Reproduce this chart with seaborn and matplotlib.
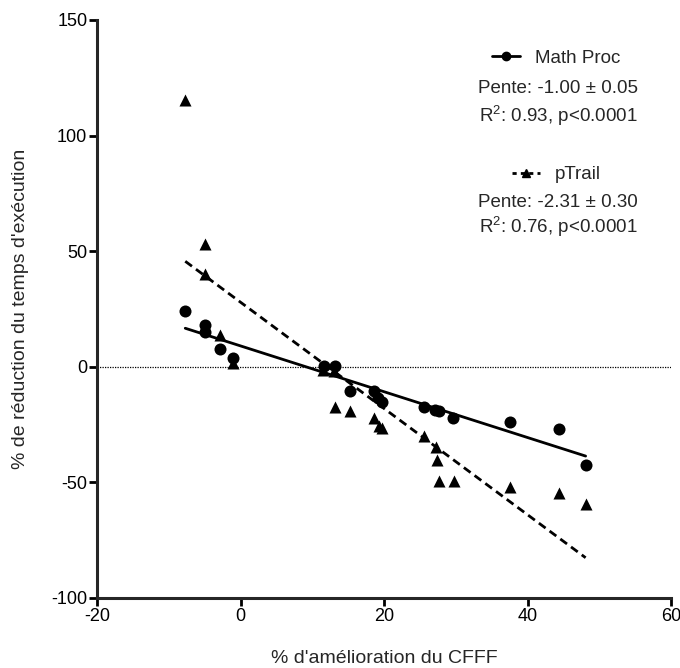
import matplotlib
matplotlib.use('Agg')
import matplotlib.pyplot as plt
from matplotlib.lines import Line2D
import pandas as pd
import seaborn as sns

# values
x_math = [-7.7, -5.0, -5.0, -2.8, -1.0, 11.7, 13.2, 15.2, 18.6, 19.1, 19.7,
          25.6, 27.1, 27.7, 29.6, 37.6, 44.4, 48.1]
y_math = [24.2, 18.2, 15.1, 7.6, 3.8, 0.4, 0.4, -10.6, -10.6, -13.6, -15.4,
          -17.3, -18.6, -19.0, -22.1, -23.9, -26.7, -42.3]

x_trail = [-7.7, -5.0, -5.0, -2.8, -1.0, 11.5, 13.0, 13.2, 15.2, 18.6, 19.3,
           19.7, 25.6, 27.2, 27.4, 27.6, 29.7, 37.6, 44.4, 48.1]
y_trail = [115.5, 53.1, 40.1, 13.8, 1.6, -1.5, -2.0, -17.6, -19.3, -22.2, -25.5,
           -26.5, -30.1, -34.6, -40.5, -49.6, -49.6, -51.8, -54.5, -59.3]

stats_math = ["Pente: -1.00 ± 0.05", "R$^2$: 0.93, p<0.0001"]
stats_trail = ["Pente: -2.31 ± 0.30", "R$^2$: 0.76, p<0.0001"]

df_math = pd.DataFrame({'x': x_math, 'y': y_math})
df_trail = pd.DataFrame({'x': x_trail, 'y': y_trail})

sns.set_style('ticks')
plt.rcParams['font.family'] = ['Liberation Sans', 'DejaVu Sans']
plt.rcParams['axes.unicode_minus'] = False
plt.rcParams['mathtext.fontset'] = 'custom'
plt.rcParams['mathtext.rm'] = 'Liberation Sans'
plt.rcParams['mathtext.it'] = 'Liberation Sans'
plt.rcParams['mathtext.default'] = 'regular'

fig = plt.figure(figsize=(6.8, 6.68), dpi=100)
ax = fig.add_axes([97 / 680, 1 - 598 / 668, 574 / 680, 578 / 668])

ax.axhline(0, color='black', lw=0.9, ls=(0, (1, 1)), zorder=1)

# regression lines
sns.regplot(data=df_math, x='x', y='y', ax=ax, scatter=False, ci=None,
            truncate=True, line_kws=dict(color='black', lw=2))
sns.regplot(data=df_trail, x='x', y='y', ax=ax, scatter=False, ci=None,
            truncate=True, line_kws=dict(color='black', lw=2, ls=(0, (3, 1.8))))

# points
sns.scatterplot(data=df_math, x='x', y='y', ax=ax, marker='o', s=75,
                color='black', edgecolor='black', linewidth=0, zorder=3)
sns.scatterplot(data=df_trail, x='x', y='y', ax=ax, marker='^', s=75,
                color='black', edgecolor='black', linewidth=0, zorder=3)

ax.set_xlim(-20, 60)
ax.set_ylim(-100, 150)
ax.set_xticks([-20, 0, 20, 40, 60])
ax.set_yticks([-100, -50, 0, 50, 100, 150])

sns.despine(ax=ax)
for s in ['left', 'bottom']:
    ax.spines[s].set_linewidth(2.2)
ax.tick_params(axis='both', direction='out', length=6, width=2,
               labelsize=13, pad=1, color='black', labelcolor='black')

ax.set_xlabel("% d'amélioration du CFFF", fontsize=14, labelpad=18)
ax.set_ylabel("% de réduction du temps d'exécution", fontsize=14, labelpad=16)

# legend entries
h_math = Line2D([], [], color='black', lw=2, marker='o', markersize=6)
h_trail = Line2D([], [], color='black', lw=2, ls=(0, (1.5, 1.5)), marker='^', markersize=6)
leg1 = ax.legend([h_math], ['Math Proc'], loc='center', bbox_to_anchor=(0.80, 0.934),
                 frameon=False, fontsize=13.5, handlelength=1.5, handletextpad=0.8)
ax.add_artist(leg1)
ax.legend([h_trail], ['pTrail'], loc='center', bbox_to_anchor=(0.80, 0.732),
          frameon=False, fontsize=13.5, handlelength=1.5, handletextpad=0.8)

for txt, yy in zip(stats_math, [0.881, 0.834]):
    ax.text(0.803, yy, txt, transform=ax.transAxes, ha='center', va='center', fontsize=13.5)
for txt, yy in zip(stats_trail, [0.685, 0.642]):
    ax.text(0.803, yy, txt, transform=ax.transAxes, ha='center', va='center', fontsize=13.5)

fig.savefig('out.png', dpi=100)
